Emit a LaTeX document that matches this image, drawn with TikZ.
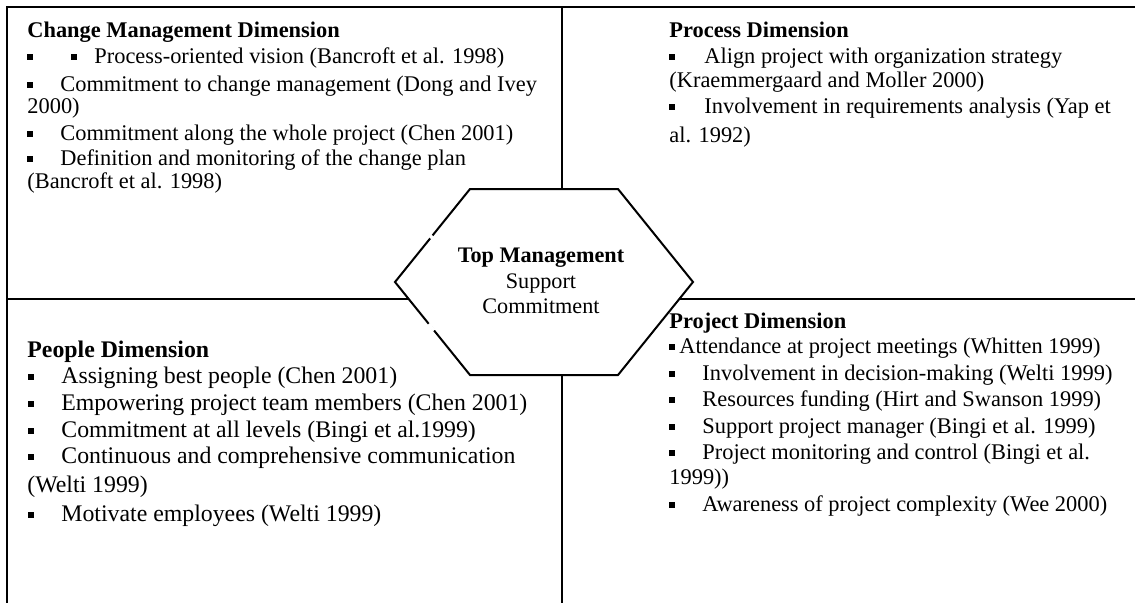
\documentclass[tikz,border=0pt]{standalone}
\usepackage{fontspec}
\usetikzlibrary{calc}
\setmainfont{Liberation Serif}
\newcommand\bul{\rule[1.6pt]{2.8pt}{2.8pt}}
\newcommand\bitem[2]{\makebox[#1][l]{\bul}#2}
\begin{document}
\begin{tikzpicture}[x=0.5pt,y=-0.5pt,
  frame/.style={line width=1pt,line cap=rect},
  txt/.style={anchor=base west,inner sep=0pt,font=\fontsize{11.2}{13}\selectfont},
  ptxt/.style={anchor=base west,inner sep=0pt,font=\fontsize{11.9}{14}\selectfont},
  ctxt/.style={anchor=base,inner sep=0pt,font=\fontsize{11.1}{13}\selectfont},
  hd/.style={txt,font=\fontsize{11.2}{13}\selectfont\bfseries},
  phd/.style={txt,font=\fontsize{11.9}{14}\selectfont\bfseries}]
\useasboundingbox (0,0) rectangle (1135,602);
% frame coordinates
\coordinate (tl) at (7,7);
\coordinate (tr) at (1135,7);
\coordinate (bl) at (7,602);
\coordinate (ml) at (7,299);
\coordinate (mr) at (1135,299);
\coordinate (vt) at (562,7);
\coordinate (vb) at (562,602);
\draw[frame] (tr) -- (tl) -- (bl);
\draw[frame] (ml) -- (mr);
\draw[frame] (vt) -- (vb);
% hexagon
\coordinate (h1) at (470,189);
\coordinate (h2) at (618,189);
\coordinate (h3) at (693,282);
\coordinate (h4) at (618,375);
\coordinate (h5) at (470,375);
\coordinate (h6) at (395,282);
\filldraw[fill=white,line width=1pt,line join=miter] (h1) -- (h2) -- (h3) -- (h4) -- (h5) -- (h6) -- cycle;
% small breaks in the left edges
\draw[white,line width=1.6pt] ($(h1)!0.50!(h6)$) -- ($(h1)!0.53!(h6)$);
\draw[white,line width=1.6pt] ($(h6)!0.45!(h5)$) -- ($(h6)!0.52!(h5)$);
\node[ctxt,font=\fontsize{11.1}{13}\selectfont\bfseries] (c1) at (541,262) {Top Management};
\node[ctxt] (c2) at (541,288) {Support};
\node[ctxt] (c3) at (541,313) {Commitment};
% top-left
\node[hd] (a0) at (27,37) {Change Management Dimension};
\node[txt] (a1) at (27,63) {\bitem{22pt}{}\bitem{11.5pt}{}Process-oriented vision (Bancroft et al. 1998)};
\node[txt] (a2) at (27,91) {\bitem{16.5pt}{Commitment to change management (Dong and Ivey}};
\node[txt] (a3) at (27,113) {2000)};
\node[txt] (a4) at (27,140) {\bitem{16.5pt}{Commitment along the whole project (Chen 2001)}};
\node[txt] (a5) at (27,165) {\bitem{16.5pt}{Definition and monitoring of the change plan}};
\node[txt] (a6) at (27,188) {(Bancroft et al. 1998)};
% top-right
\node[hd] (b0) at (669,37) {Process Dimension};
\node[txt] (b1) at (669,63) {\bitem{17.5pt}{Align project with organization strategy}};
\node[txt] (b2) at (669,87) {(Kraemmergaard and Moller 2000)};
\node[txt] (b3) at (669,113) {\bitem{17.5pt}{Involvement in requirements analysis (Yap et}};
\node[txt] (b4) at (669,142) {al. 1992)};
% bottom-left
\node[phd] (p0) at (27,357) {People Dimension};
\node[ptxt] (p1) at (28,383) {\bitem{16.5pt}{Assigning best people (Chen 2001)}};
\node[ptxt] (p2) at (28,410) {\bitem{16.5pt}{Empowering project team members (Chen 2001)}};
\node[ptxt] (p3) at (28,437) {\bitem{16.5pt}{Commitment at all levels (Bingi et al.1999)}};
\node[ptxt] (p4) at (28,463) {\bitem{16.5pt}{Continuous and comprehensive communication}};
\node[ptxt] (p5) at (27,492) {(Welti 1999)};
\node[ptxt] (p6) at (28,521) {\bitem{16.5pt}{Motivate employees (Welti 1999)}};
% bottom-right
\node[hd] (q0) at (669,328) {Project Dimension};
\node[txt] (q1) at (669,353) {\bitem{5pt}{Attendance at project meetings (Whitten 1999)}};
\node[txt] (q2) at (669,380) {\bitem{16.5pt}{Involvement in decision-making (Welti 1999)}};
\node[txt] (q3) at (669,406) {\bitem{16.5pt}{Resources funding (Hirt and Swanson 1999)}};
\node[txt] (q4) at (669,433) {\bitem{16.5pt}{Support project manager (Bingi et al. 1999)}};
\node[txt] (q5) at (669,459) {\bitem{16.5pt}{Project monitoring and control (Bingi et al.}};
\node[txt] (q6) at (669,484) {1999))};
\node[txt] (q7) at (669,511) {\bitem{16.5pt}{Awareness of project complexity (Wee 2000)}};
\end{tikzpicture}
\end{document}
